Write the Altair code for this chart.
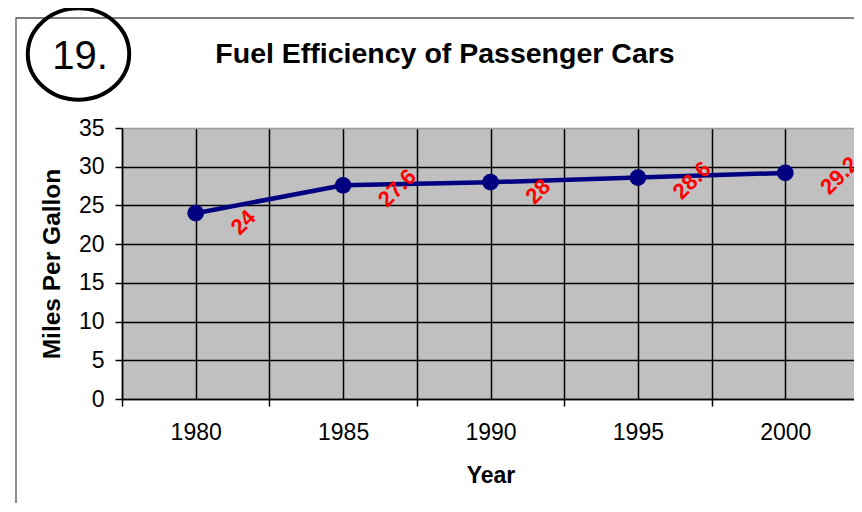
import altair as alt
import pandas as pd

years = [1980, 1985, 1990, 1995, 2000]
mpg = [24, 27.6, 28, 28.6, 29.2]
mpg_labels = ["24", "27.6", "28", "28.6", "29.2"]
x_grid_values = [1977.5, 1980, 1982.5, 1985, 1987.5, 1990, 1992.5, 1995, 1997.5, 2000, 2002.5]
y_values = [0, 5, 10, 15, 20, 25, 30, 35]

df = pd.DataFrame({"Year": years, "MPG": mpg, "Label": mpg_labels})
one = pd.DataFrame({"k": [0]})

FONT = "Liberation Sans"

x_enc = alt.X(
    "Year:Q",
    scale=alt.Scale(domain=[1977.5, 2002.5], nice=False, zero=False, range=[0, 737]),
    axis=alt.Axis(
        values=x_grid_values,
        tickCount=len(x_grid_values),
        labelExpr="datum.value % 5 == 0 ? datum.label : ''",
        format="d",
        labelOverlap=False,
        grid=True,
        gridColor="black",
        gridWidth=1.5,
        tickColor="black",
        tickWidth=1.5,
        tickSize=7,
        tickOpacity={"expr": "datum.value % 5 == 0 ? 0 : 1"},
        domainColor="black",
        domainWidth=1.5,
        labelFont=FONT,
        labelFontSize=23,
        labelColor="black",
        labelPadding=15,
        title="Year",
        titleFont=FONT,
        titleFontSize=23,
        titleFontWeight="bold",
        titleColor="black",
        titlePadding=20,
    ),
)
y_enc = alt.Y(
    "MPG:Q",
    scale=alt.Scale(domain=[0, 35], nice=False),
    axis=alt.Axis(
        values=y_values,
        tickCount=len(y_values),
        labelOverlap=False,
        grid=True,
        gridColor={"expr": "datum.value == 35 ? '#9a9a9a' : 'black'"},
        gridWidth=1.5,
        tickColor="black",
        tickWidth=1.5,
        tickSize=7,
        domainColor="black",
        domainWidth=1.5,
        labelFont=FONT,
        labelFontSize=23,
        labelColor="black",
        labelPadding=11,
        title="Miles Per Gallon",
        titleFont=FONT,
        titleFontSize=24.5,
        titleFontWeight="bold",
        titleColor="black",
        titlePadding=14,
    ),
)

base = alt.Chart(df)
line = base.mark_line(color="#000080", strokeWidth=4.5).encode(x=x_enc, y=y_enc)
points = base.mark_point(filled=True, color="#000080", size=280, opacity=1, shape="circle").encode(
    x="Year:Q", y="MPG:Q"
)
labels = base.mark_text(
    color="#FF0000", font=FONT, fontSize=22, fontWeight="bold", angle=315,
    align="left", baseline="middle", xOffset=39, yOffset=18,
).encode(x="Year:Q", y="MPG:Q", text="Label:N")

frame = alt.Chart(one).mark_rect(fill="transparent", stroke="#555555", strokeWidth=1.3).encode(
    x=alt.value(-106), x2=alt.value(760), y=alt.value(-110), y2=alt.value(420)
)
title = alt.Chart(one).mark_text(
    text="Fuel Efficiency of Passenger Cars", font=FONT, fontSize=28.5, fontWeight="bold",
    color="black", align="center", baseline="alphabetic",
).encode(x=alt.value(323), y=alt.value(-65))
ellipse = alt.Chart(one).mark_point(
    shape="M -1 0 A 1 0.9 0 1 1 1 0 A 1 0.9 0 1 1 -1 0 Z",
    size=10290, filled=False, stroke="black", strokeWidth=4, opacity=1,
).encode(x=alt.value(-43.5), y=alt.value(-74))
num = alt.Chart(one).mark_text(
    text="19.", font=FONT, fontSize=40, color="black", align="center", baseline="alphabetic"
).encode(x=alt.value(-42), y=alt.value(-59))

chart = (
    alt.layer(frame, line, points, labels, title, ellipse, num)
    .properties(
        width=732,
        height=271,
        autosize=alt.AutoSizeParams(type="none"),
        padding={"left": 114, "top": 120, "right": 0, "bottom": 104},
        background="white",
    )
    .configure_view(fill="#C0C0C0", stroke="transparent", strokeWidth=0)
)

chart.save("out.html", embed_options={"renderer": "svg", "actions": False})
